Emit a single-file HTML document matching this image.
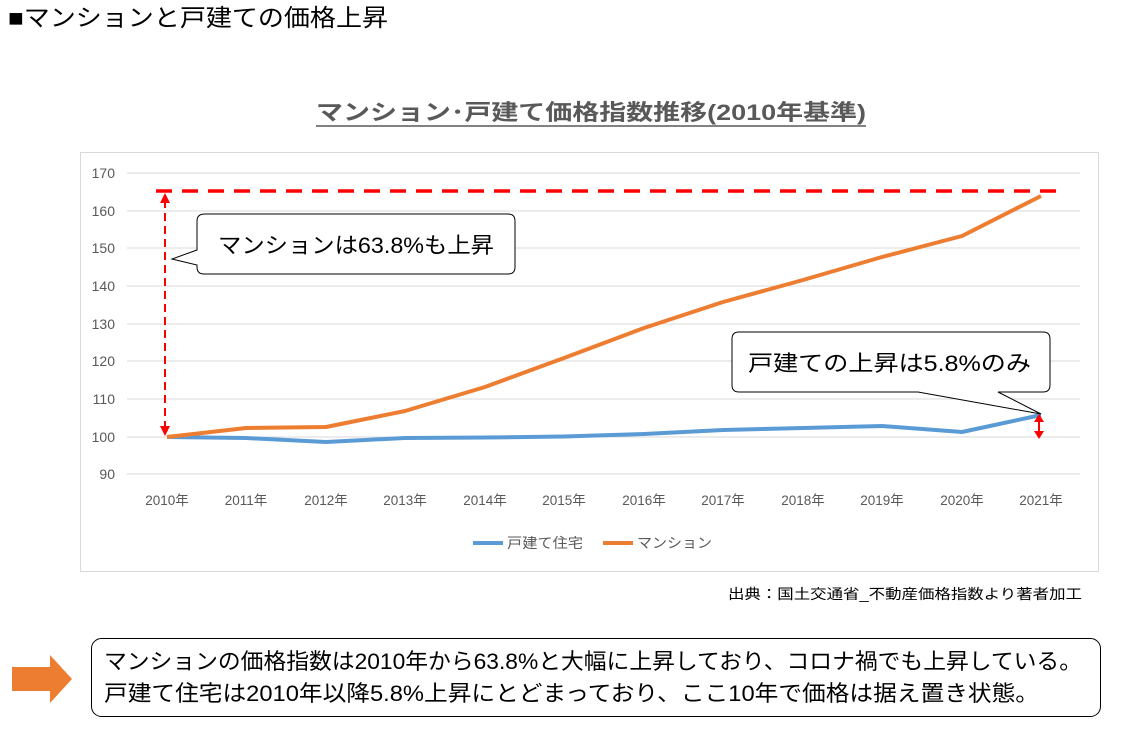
<!DOCTYPE html>
<html><head><meta charset="utf-8"><style>
body{margin:0;width:1122px;height:737px;background:#fff;overflow:hidden;font-family:"Liberation Sans","Noto Sans CJK JP",sans-serif;}
</style></head><body>
<svg width="1122" height="737" xmlns="http://www.w3.org/2000/svg" font-family="Liberation Sans, Noto Sans CJK JP, sans-serif">
<text x="8" y="26" font-size="24" fill="#000" textLength="380" lengthAdjust="spacingAndGlyphs">■マンションと戸建ての価格上昇</text>
<text x="316" y="120" font-size="22" font-weight="bold" fill="#595959" textLength="550" lengthAdjust="spacingAndGlyphs">マンション･戸建て価格指数推移(2010年基準)</text>
<line x1="316" y1="126" x2="866" y2="126" stroke="#595959" stroke-width="1.5"/>
<rect x="80.5" y="152.5" width="1018" height="419" fill="#fff" stroke="#d9d9d9"/>
<g stroke="#d9d9d9" stroke-width="1">
<line x1="127" x2="1080" y1="173" y2="173"/><line x1="127" x2="1080" y1="211" y2="211"/>
<line x1="127" x2="1080" y1="248" y2="248"/><line x1="127" x2="1080" y1="286" y2="286"/>
<line x1="127" x2="1080" y1="324" y2="324"/><line x1="127" x2="1080" y1="361" y2="361"/>
<line x1="127" x2="1080" y1="399" y2="399"/><line x1="127" x2="1080" y1="437" y2="437"/>
<line x1="127" x2="1080" y1="474" y2="474"/></g>
<g font-size="14" fill="#595959" text-anchor="end">
<text x="115" y="178">170</text><text x="115" y="216">160</text><text x="115" y="253">150</text>
<text x="115" y="291">140</text><text x="115" y="329">130</text><text x="115" y="366">120</text>
<text x="115" y="404">110</text><text x="115" y="442">100</text><text x="115" y="479">90</text></g>
<g font-size="13.5" fill="#595959" text-anchor="middle">
<text x="167" y="505">2010年</text><text x="246" y="505">2011年</text><text x="326" y="505">2012年</text>
<text x="405" y="505">2013年</text><text x="485" y="505">2014年</text><text x="564" y="505">2015年</text>
<text x="644" y="505">2016年</text><text x="723" y="505">2017年</text><text x="803" y="505">2018年</text>
<text x="882" y="505">2019年</text><text x="962" y="505">2020年</text><text x="1041" y="505">2021年</text></g>
<polyline fill="none" stroke="#5b9bd5" stroke-width="4" stroke-linejoin="round" points="167,437 246,438 326,442 405,438 485,437.5 564,436.5 644,434 723,430 803,428 882,426 962,432 1041,415"/>
<polyline fill="none" stroke="#ed7d31" stroke-width="4" stroke-linejoin="round" points="167,437 246,428 326,427 405,411 485,387 564,358 644,328 723,302 803,280 882,257 962,236 1041,196"/>
<line x1="156" y1="191" x2="1060" y2="191" stroke="#f00" stroke-width="3.5" stroke-dasharray="16,10"/>
<line x1="165" y1="200" x2="165" y2="428" stroke="#f00" stroke-width="2" stroke-dasharray="8,5"/>
<polygon points="165,193 160,203 170,203" fill="#f00"/><polygon points="165,436 160,426 170,426" fill="#f00"/>
<line x1="1039" y1="420" x2="1039" y2="432" stroke="#f00" stroke-width="2"/>
<polygon points="1039,414 1034,422 1044,422" fill="#f00"/><polygon points="1039,439 1034,431 1044,431" fill="#f00"/>
<path d="M205,214 H508 Q515,214 515,221 V267 Q515,274 508,274 H204 Q197,274 197,267 V265 L172,259 L197,250 V221 Q197,214 205,214 Z" fill="#fff" stroke="#000" stroke-width="1"/>
<text x="218" y="253" font-size="22" fill="#000" textLength="276" lengthAdjust="spacingAndGlyphs">マンションは63.8%も上昇</text>
<path d="M739,332 H1043 Q1050,332 1050,339 V385 Q1050,392 1043,392 H998 L1041,414 L918,392 H739 Q732,392 732,385 V339 Q732,332 739,332 Z" fill="#fff" stroke="#000" stroke-width="1"/>
<text x="748" y="371" font-size="22" fill="#000" textLength="283" lengthAdjust="spacingAndGlyphs">戸建ての上昇は5.8%のみ</text>
<line x1="473" y1="543" x2="503" y2="543" stroke="#5b9bd5" stroke-width="4"/>
<text x="507" y="548" font-size="14" fill="#595959" textLength="76" lengthAdjust="spacingAndGlyphs">戸建て住宅</text>
<line x1="603" y1="543" x2="633" y2="543" stroke="#ed7d31" stroke-width="4"/>
<text x="637" y="548" font-size="14" fill="#595959" textLength="75" lengthAdjust="spacingAndGlyphs">マンション</text>
<text x="728" y="599" font-size="14" fill="#000" textLength="354" lengthAdjust="spacingAndGlyphs">出典：国土交通省_不動産価格指数より著者加工</text>
<polygon points="12,667 50,667 50,655 72,679 50,703 50,691 12,691" fill="#ed7d31"/>
<rect x="91.5" y="638.5" width="1009" height="78" rx="10" fill="#fff" stroke="#000"/>
<text x="104" y="669" font-size="22" fill="#000" textLength="978" lengthAdjust="spacingAndGlyphs">マンションの価格指数は2010年から63.8%と大幅に上昇しており、コロナ禍でも上昇している。</text>
<text x="104" y="701" font-size="22" fill="#000" textLength="935" lengthAdjust="spacingAndGlyphs">戸建て住宅は2010年以降5.8%上昇にとどまっており、ここ10年で価格は据え置き状態。</text>
</svg>
</body></html>
